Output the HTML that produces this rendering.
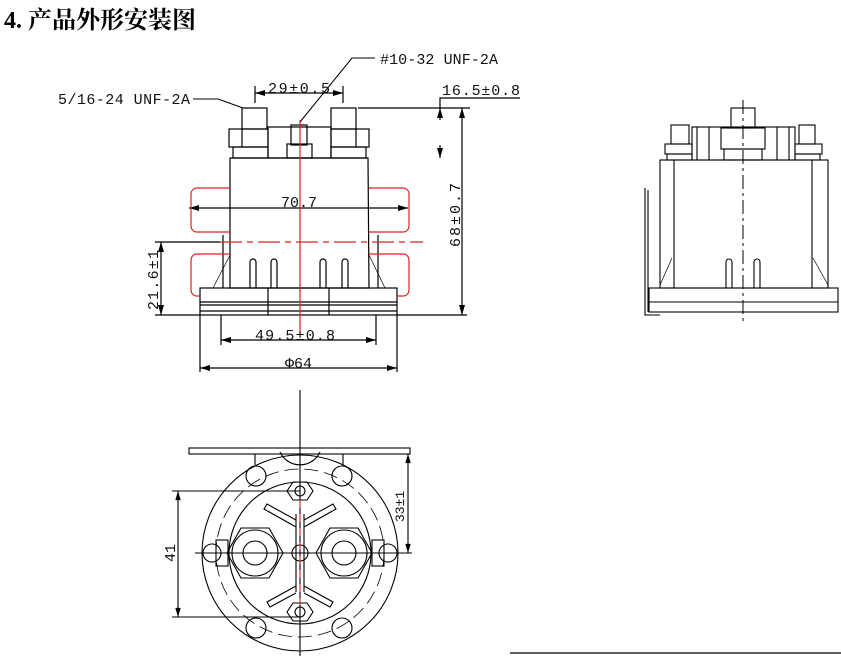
<!DOCTYPE html>
<html><head><meta charset="utf-8"><style>
html,body{margin:0;padding:0;background:#fff;width:841px;height:656px;overflow:hidden}
svg{display:block}
.t{font-family:"Liberation Mono","DejaVu Sans Mono",monospace;font-size:15px;fill:#111}
</style></head><body>
<svg width="841" height="656" viewBox="0 0 841 656" xmlns="http://www.w3.org/2000/svg">
<defs>
<marker id="a" viewBox="0 0 10 6" refX="10" refY="3" markerWidth="9" markerHeight="5" orient="auto-start-reverse"><path d="M0,0 L10,3 L0,6z" fill="#000"/></marker>
</defs>
<text x="4" y="28" font-family="Liberation Serif,'Noto Serif CJK SC',serif" font-weight="bold" font-size="24" fill="#000">4. 产品外形安装图</text>

<g fill="none" stroke="#000" stroke-width="1.2">
<rect x="242" y="108" width="25" height="21"/>
<rect x="229" y="129" width="39" height="18"/>
<line x1="242" y1="129" x2="242" y2="147"/>
<rect x="233" y="147" width="35" height="11"/>
<rect x="331" y="108" width="25" height="21"/>
<rect x="331" y="129" width="38" height="18"/>
<line x1="356" y1="129" x2="356" y2="147"/>
<rect x="331" y="147" width="35" height="11"/>
<rect x="268" y="127" width="63" height="31"/>
<rect x="291" y="125" width="16" height="20"/>
<rect x="287" y="144" width="25" height="14"/>
<path d="M230,158 L368,158 L369,288 L230,288 Z"/>
<path d="M213,288 L230,255 M385,288 L369,255" stroke-width="0.7"/>
<path d="M223,235 V288 M378,235 V288"/>
<path d="M250,288 V262 a3,3 0 0 1 6,0 V288 M271,288 V262 a3,3 0 0 1 6,0 V288 M320,288 V262 a3,3 0 0 1 6,0 V288 M342,288 V262 a3,3 0 0 1 6,0 V288"/>
<rect x="200" y="288" width="197" height="27"/>
<line x1="200" y1="302" x2="397" y2="302"/>
<line x1="200" y1="305" x2="397" y2="305"/>
<line x1="200" y1="311" x2="397" y2="311"/>
<line x1="268" y1="288" x2="268" y2="315"/>
<line x1="329" y1="288" x2="329" y2="315"/>
<line x1="255" y1="86" x2="255" y2="103"/><line x1="343" y1="86" x2="343" y2="103"/>
<line x1="255" y1="93" x2="343" y2="93" marker-start="url(#a)" marker-end="url(#a)"/>
<line x1="358" y1="108" x2="470" y2="108"/>
<polyline points="520,98 440,98 440,108"/>
<line x1="440" y1="120" x2="440" y2="108" marker-end="url(#a)"/>
<line x1="440" y1="145" x2="440" y2="158" marker-end="url(#a)"/>
<line x1="462" y1="108" x2="462" y2="315" marker-start="url(#a)" marker-end="url(#a)"/>
<line x1="397" y1="315" x2="467" y2="315"/>
<line x1="155" y1="242" x2="220" y2="242"/>
<line x1="155" y1="315" x2="200" y2="315"/>
<line x1="161" y1="242" x2="161" y2="315" marker-start="url(#a)" marker-end="url(#a)"/>
<line x1="189" y1="208" x2="408" y2="208" marker-start="url(#a)" marker-end="url(#a)"/>
<line x1="221" y1="315" x2="221" y2="345"/><line x1="376" y1="315" x2="376" y2="345"/>
<line x1="221" y1="340" x2="376" y2="340" marker-start="url(#a)" marker-end="url(#a)"/>
<line x1="200" y1="315" x2="200" y2="372"/><line x1="397" y1="315" x2="397" y2="372"/>
<line x1="200" y1="368" x2="397" y2="368" marker-start="url(#a)" marker-end="url(#a)"/>
<polyline points="193,99 218,99 243,108" stroke-width="1"/>
<polyline points="375,58 352,58 300,122" stroke-width="1"/>
</g>
<g fill="none" stroke="#e02020" stroke-width="1.2">
<path d="M230,188 H197 a6,6 0 0 0 -6,6 V226 a6,6 0 0 0 6,6 H230"/>
<path d="M369,188 H403 a6,6 0 0 1 6,6 V226 a6,6 0 0 1 -6,6 H369"/>
<path d="M230,254 H197 a6,6 0 0 0 -6,6 V290 a6,6 0 0 0 6,6 H200"/>
<path d="M369,254 H403 a6,6 0 0 1 6,6 V290 a6,6 0 0 1 -6,6 H397"/>
<line x1="300" y1="120" x2="300" y2="335"/>
<line x1="220" y1="242" x2="423" y2="242" stroke-dasharray="22,5,6,5"/>
</g>
<text class="t" x="58" y="104" textLength="132">5/16-24 UNF-2A</text>
<text class="t" x="380" y="64" textLength="118">#10-32 UNF-2A</text>
<text class="t" x="268" y="93" textLength="62">29±0.5</text>
<text class="t" x="442" y="95" textLength="78">16.5±0.8</text>
<text class="t" x="281" y="207" textLength="36">70.7</text>
<text class="t" x="255" y="340" textLength="80">49.5±0.8</text>
<text class="t" x="285" y="368">Φ64</text>
<text class="t" transform="translate(460,247) rotate(-90)" textLength="64">68±0.7</text>
<text class="t" transform="translate(158,310) rotate(-90)" textLength="60">21.6±1</text>

<g fill="none" stroke="#000" stroke-width="1.1">
<line x1="300" y1="390" x2="300" y2="656"/>
<line x1="195" y1="553" x2="412" y2="553"/>
<rect x="189" y="448" width="221" height="6"/>
<path d="M255,454 V465 M343,454 V465"/>
<circle cx="300" cy="553" r="98"/>
<circle cx="300" cy="553" r="71"/>
<circle cx="300" cy="553" r="84" stroke-dasharray="14,6" stroke-width="0.8"/>
<g><polygon points="241,528 269,528 283,553 269,578 241,578 227,553"/><circle cx="255" cy="553" r="23"/><circle cx="255" cy="553" r="12"/></g>
<g><polygon points="330,528 358,528 372,553 358,578 330,578 316,553"/><circle cx="344" cy="553" r="23"/><circle cx="344" cy="553" r="12"/></g>
<polygon points="293,482 307,482 313,491 307,500 293,500 287,491"/><circle cx="300" cy="491" r="5"/>
<polygon points="293,603 307,603 313,612 307,621 293,621 287,612"/><circle cx="300" cy="612" r="5"/>
<circle cx="300" cy="553" r="8"/>
<circle cx="212" cy="553" r="9"/><circle cx="388" cy="553" r="9"/>
<rect x="216" y="540" width="12" height="26"/><rect x="372" y="540" width="12" height="26"/>
<circle cx="256" cy="476" r="10"/><circle cx="342" cy="476" r="10"/>
<circle cx="256" cy="628" r="10"/><circle cx="342" cy="628" r="10"/>
<path d="M296,514 V592 M304,514 V592"/>
<path d="M296,520 L267,504 L264,509 L296,527 M304,520 L333,504 L336,509 L304,527"/>
<path d="M296,586 L267,602 L270,607 L296,593 M304,586 L333,602 L330,607 L304,593"/>
<path d="M280,452 A22,22 0 0 0 320,452"/>
<line x1="172" y1="491" x2="300" y2="491"/><line x1="172" y1="617" x2="300" y2="617"/>
<line x1="178" y1="491" x2="178" y2="617" marker-start="url(#a)" marker-end="url(#a)"/>
<line x1="408" y1="454" x2="408" y2="553" marker-start="url(#a)" marker-end="url(#a)"/>
</g>
<line x1="300" y1="500" x2="300" y2="605" stroke="#e02020" stroke-dasharray="8,6" stroke-width="1"/>
<text class="t" transform="translate(175,562) rotate(-90)">41</text>
<text class="t" transform="translate(404,522) rotate(-90)" style="font-size:13px">33±1</text>

<g fill="none" stroke="#000" stroke-width="1.1">
<rect x="731" y="108" width="24" height="20"/>
<rect x="721" y="128" width="44" height="21"/>
<rect x="724" y="149" width="38" height="11"/>
<rect x="692" y="127" width="103" height="33"/>
<line x1="697" y1="127" x2="697" y2="160"/><line x1="709" y1="127" x2="709" y2="160"/>
<line x1="777" y1="127" x2="777" y2="160"/><line x1="789" y1="127" x2="789" y2="160"/>
<rect x="671" y="125" width="18" height="19"/><rect x="665" y="144" width="27" height="10"/><rect x="667" y="154" width="25" height="6"/>
<rect x="799" y="125" width="16" height="19"/><rect x="795" y="144" width="27" height="10"/><rect x="795" y="154" width="25" height="6"/>
<rect x="660" y="160" width="168" height="128"/>
<line x1="674" y1="160" x2="674" y2="288"/><line x1="812" y1="160" x2="812" y2="288"/>
<path d="M660,285 L672,258 M828,285 L813,258" stroke-width="0.7"/>
<path d="M726,288 V262 a3,3 0 0 1 6,0 V288 M754,288 V262 a3,3 0 0 1 6,0 V288"/>
<rect x="649" y="288" width="189" height="24"/>
<line x1="649" y1="302" x2="838" y2="302"/><line x1="649" y1="312" x2="838" y2="312"/>
<path d="M645,188 V315 H660 M648,190 V312"/>
</g>
<line x1="743" y1="100" x2="743" y2="325" stroke="#000" stroke-dasharray="14,4,3,4" stroke-width="1"/>
<line x1="510" y1="653" x2="841" y2="653" stroke="#000" stroke-width="1.2"/>
</svg>
</body></html>
